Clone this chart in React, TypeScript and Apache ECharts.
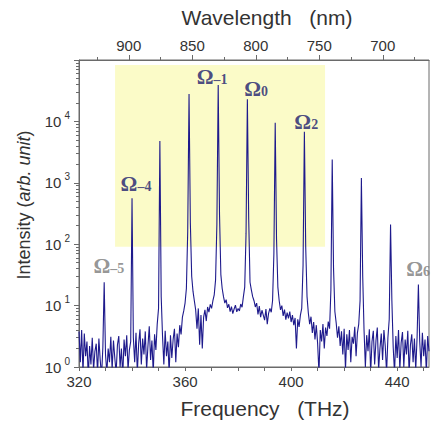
import React, { useEffect, useRef } from "react";
import * as echarts from "echarts";

// Frequency grid of the measured spectrum (THz)
const FREQ_START = 320;
const FREQ_STEP = 0.5;

// Measured intensity (arb. unit), one value per 0.5 THz from 320 to 452 THz
const intensity: number[] = [
  // 320.0 - 329.0
  3.8, 1.2, 4.0, 0.8, 3.5, 1.5, 2.6, 0.7, 2.2, 1.1, 3.0, 0.9, 1.8, 2.4, 0.8, 2.9, 1.3, 0.7, 2.1,
  // 329.5 (Ω-5)
  24,
  // 330.0 - 339.5
  1.6, 0.8, 2.0, 1.2, 3.1, 0.9, 2.7, 1.4, 0.8, 2.3, 3.2, 1.0, 2.0, 0.7, 2.8, 1.5, 3.3, 0.9, 1.9, 2.6,
  // 340.0 (Ω-4)
  560,
  // 340.5 - 350.0
  3.0, 1.2, 3.6, 0.8, 2.4, 4.1, 1.1, 2.9, 1.6, 3.8, 0.9, 2.2, 4.6, 1.3, 2.7, 0.8, 3.4, 1.9, 5.0, 9,
  // 350.5 (Ω-3)
  4800,
  // 351.0 - 361.0
  14, 3.2, 1.1, 3.9, 1.5, 2.6, 0.8, 3.3, 1.4, 2.8, 4.2, 1.2, 3.5, 2.1, 4.8, 3.4, 6.5, 8.2, 11, 19, 160,
  // 361.5 (Ω-2)
  28000,
  // 362.0 - 372.0
  220, 30, 17, 12, 8.5, 4.2, 9.0, 2.3, 7.0, 2.0, 6.5, 8.5, 5.6, 9.5, 7.8, 10.5, 9.0, 12, 15, 26, 210,
  // 372.5 (Ω-1)
  39000,
  // 373.0 - 383.0
  300, 32, 19, 14, 11, 12.5, 9.2, 10.5, 8.0, 9.6, 7.4, 8.8, 10.2, 7.9, 9.0, 8.2, 10.6, 9.4, 14, 20, 150,
  // 383.5 (Ω0)
  23000,
  // 384.0 - 393.5
  260, 24, 18, 14, 12, 9.5, 11, 7.2, 9.8, 6.5, 8.4, 7.0, 5.8, 8.8, 5.0, 7.5, 9.0, 7.8, 12, 70,
  // 394.0 (Ω1)
  9500,
  // 394.5 - 404.5
  120, 20, 12, 8.5, 10, 6.8, 8.6, 5.9, 7.7, 6.2, 8.0, 5.4, 7.0, 4.8, 6.3, 2.0, 6.0, 4.5, 7.0, 9.0, 45,
  // 405.0 (Ω2)
  6800,
  // 405.5 - 415.0
  90, 14, 7.5, 5.0, 6.6, 3.6, 5.4, 2.8, 4.8, 2.4, 0.8, 4.0, 2.6, 5.0, 2.0, 4.4, 3.2, 5.5, 4.2, 18,
  // 415.5 (Ω3)
  2400,
  // 416.0 - 426.0
  40, 8.0, 5.2, 3.0, 4.6, 2.2, 3.8, 1.6, 4.2, 0.9, 3.4, 1.9, 4.0, 1.2, 3.1, 2.4, 4.5, 1.5, 3.6, 5.0, 12,
  // 426.5 (Ω4)
  1200,
  // 427.0 - 437.0
  30, 4.0, 1.0, 3.3, 1.8, 4.1, 0.8, 2.6, 3.9, 1.1, 2.7, 4.4, 0.9, 2.0, 3.5, 1.3, 4.0, 2.2, 0.8, 3.0, 6.0,
  // 437.5 (Ω5)
  210,
  // 438.0 - 447.5
  12, 2.1, 0.8, 3.2, 1.4, 4.0, 0.9, 2.5, 3.7, 1.0, 2.8, 1.6, 3.9, 0.8, 2.3, 3.4, 1.2, 2.9, 0.9, 3.0,
  // 448.0 (Ω6)
  22,
  // 448.5 - 452.0
  2.6, 1.0, 3.6, 1.5, 2.8, 0.8, 3.2, 1.8,
];

// Axes
const FREQ_MIN = 320;
const FREQ_MAX = 452;
const freqTickValues = [320, 330, 340, 350, 360, 370, 380, 390, 400, 410, 420, 430, 440, 450];
const freqLabelValues = [320, 360, 400, 440];
const WL_LEFT = 939.2;
const WL_RIGHT = 663.6;
const wlLabelValues = [700, 750, 800, 850, 900];
const wlMinorTickValues = [675, 725, 775, 825, 875, 925];
const Y_MIN = 1;
const Y_MAX = 100000;
const yMinorMultipliers = [2, 3, 4, 5, 6, 7, 8, 9];
const yDecadeExponents = [0, 1, 2, 3, 4];

// Highlighted (yellow) band: frequency range and intensity range
const bandFreq = [333.6, 412.8];
const bandIntensity = [91, 83000];

// Mode labels: subscript, position (freq, intensity at label centre), colour
const modeSub = ["–5", "–4", "–1", "0", "2", "6"];
const modeFreq = [331.3, 341.5, 370.2, 386.8, 405.7, 447.9];
const modeLevel = [46, 1000, 55000, 35000, 10500, 41];
const modeColor = ["#7a7a7a", "#1d1d6e", "#1d1d6e", "#1d1d6e", "#1d1d6e", "#7a7a7a"];

const SANS = "'Liberation Sans', Arial, sans-serif";
const SERIF = "'Liberation Serif', 'Times New Roman', serif";
const AXIS_COLOR = "#6a6a6a";
const TEXT_COLOR = "#333333";

export default function App() {
  const ref = useRef<HTMLDivElement>(null);

  useEffect(() => {
    if (!ref.current) return;
    const chart = echarts.init(ref.current, undefined, { renderer: "svg" });

    const lineData = intensity.map((v, i) => [FREQ_START + i * FREQ_STEP, v]);
    const yMinorTicks: number[] = [];
    yDecadeExponents.forEach((e) =>
      yMinorMultipliers.forEach((m) => yMinorTicks.push(Math.log10(m) + e))
    );

    const labelData = modeSub.map((s, i) => ({
      value: [modeFreq[i], modeLevel[i]],
      name: s,
      label: { color: modeColor[i] },
    }));

    const grid = { left: 79, right: 2, top: 60, bottom: 62 };

    chart.setOption({
      animation: false,
      backgroundColor: "#ffffff",
      grid: { ...grid, show: true, borderColor: AXIS_COLOR, borderWidth: 1, backgroundColor: "transparent" },
      xAxis: [
        {
          type: "value",
          position: "bottom",
          min: FREQ_MIN,
          max: FREQ_MAX,
          axisLine: { show: true, lineStyle: { color: AXIS_COLOR } },
          axisTick: { show: true, length: 4, customValues: freqTickValues, lineStyle: { color: AXIS_COLOR } },
          axisLabel: {
            customValues: freqLabelValues,
            color: TEXT_COLOR,
            fontFamily: SANS,
            fontSize: 15,
            margin: 7,
          },
          splitLine: { show: false },
        },
        {
          type: "value",
          position: "top",
          inverse: true,
          min: WL_RIGHT,
          max: WL_LEFT,
          axisLine: { show: true, lineStyle: { color: AXIS_COLOR } },
          axisTick: { show: true, length: 5, customValues: wlLabelValues, lineStyle: { color: AXIS_COLOR } },
          axisLabel: {
            customValues: wlLabelValues,
            color: TEXT_COLOR,
            fontFamily: SANS,
            fontSize: 15,
            margin: 7,
          },
          splitLine: { show: false },
        },
        {
          type: "value",
          position: "top",
          inverse: true,
          min: WL_RIGHT,
          max: WL_LEFT,
          axisLine: { show: false },
          axisTick: { show: true, length: 3, customValues: wlMinorTickValues, lineStyle: { color: AXIS_COLOR } },
          axisLabel: { show: false },
          splitLine: { show: false },
        },
      ],
      yAxis: [
        {
          type: "log",
          logBase: 10,
          min: Y_MIN,
          max: Y_MAX,
          axisLine: { show: true, lineStyle: { color: AXIS_COLOR } },
          axisTick: { show: true, length: 5, lineStyle: { color: AXIS_COLOR } },
          axisLabel: {
            color: TEXT_COLOR,
            fontFamily: SANS,
            margin: 9,
            formatter: (v: number) => {
              const e = Math.round(Math.log10(v));
              return e >= 5 ? "" : `{b|10}{s|${e}}`;
            },
            rich: {
              b: { fontSize: 15, lineHeight: 22, fontFamily: SANS, color: TEXT_COLOR },
              s: { fontSize: 10, lineHeight: 10, verticalAlign: "top", fontFamily: SANS, color: TEXT_COLOR, padding: [0, 0, 0, 3] },
            },
          },
          splitLine: { show: false },
        },
        {
          type: "value",
          min: 0,
          max: 5,
          position: "left",
          axisLine: { show: false },
          axisTick: { show: true, length: 3, customValues: yMinorTicks, lineStyle: { color: AXIS_COLOR } },
          axisLabel: { show: false },
          splitLine: { show: false },
        },
      ],
      series: [
        {
          type: "line",
          xAxisIndex: 0,
          yAxisIndex: 0,
          data: lineData,
          showSymbol: false,
          symbol: "none",
          lineStyle: { color: "#1e1a8c", width: 1.1 },
          clip: true,
          z: 3,
          markArea: {
            silent: true,
            itemStyle: { color: "#fbfbc8", opacity: 1 },
            data: [[{ coord: [bandFreq[0], bandIntensity[0]] }, { coord: [bandFreq[1], bandIntensity[1]] }]],
          },
        },
        {
          type: "scatter",
          xAxisIndex: 0,
          yAxisIndex: 0,
          symbolSize: 0,
          silent: true,
          clip: false,
          z: 5,
          data: labelData,
          label: {
            show: true,
            position: "inside",
            formatter: (p: any) => `{o|Ω}{s|${p.name}}`,
            rich: {
              o: { fontSize: 21, fontFamily: SERIF, fontWeight: "bold", lineHeight: 24, verticalAlign: "bottom" },
              s: { fontSize: 14, fontFamily: SERIF, fontWeight: "bold", lineHeight: 14, verticalAlign: "bottom", padding: [0, 0, 1, 0] },
            },
          },
        },
      ],
      graphic: [
        {
          type: "text",
          x: 267,
          y: 17,
          style: {
            text: "Wavelength   (nm)",
            font: `21px ${SANS}`,
            fill: TEXT_COLOR,
            align: "center",
            verticalAlign: "middle",
          },
        },
        {
          type: "text",
          x: 265,
          y: 408,
          style: {
            text: "Frequency   (THz)",
            font: `21px ${SANS}`,
            fill: TEXT_COLOR,
            align: "center",
            verticalAlign: "middle",
          },
        },
        {
          type: "text",
          x: 24,
          y: 205,
          rotation: Math.PI / 2,
          style: {
            text: "Intensity ({i|arb. unit})",
            fontSize: 18,
            fontFamily: SANS,
            fill: TEXT_COLOR,
            align: "center",
            verticalAlign: "middle",
            rich: {
              i: { fontSize: 18, fontFamily: SANS, fontStyle: "italic", fill: TEXT_COLOR },
            },
          },
        },
      ],
    });

    return () => chart.dispose();
  }, []);

  return (
    <div
      ref={ref}
      style={{ position: "fixed", left: 0, top: 0, width: 431, height: 429, background: "#fff" }}
    />
  );
}
